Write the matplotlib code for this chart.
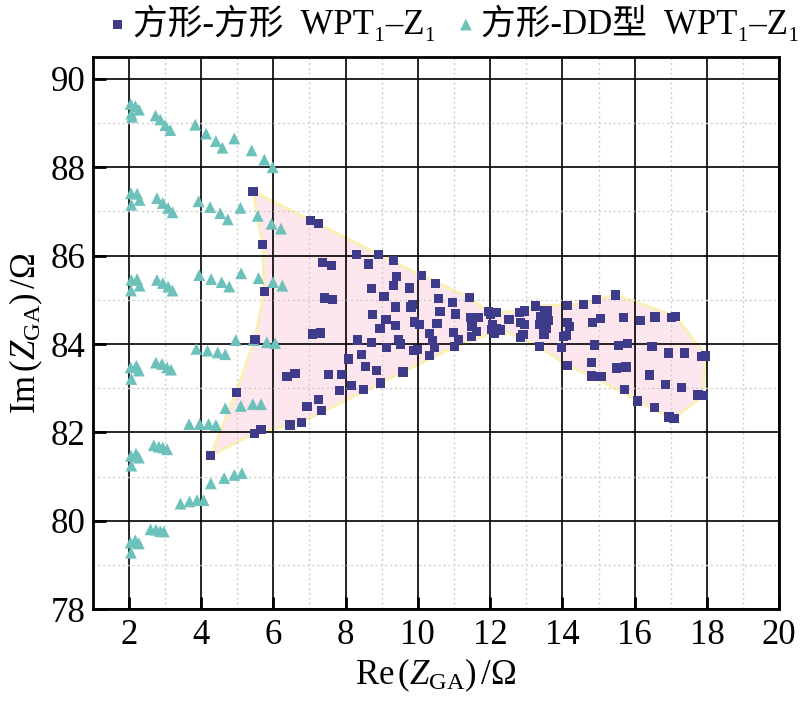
import numpy as np
import matplotlib
matplotlib.use("Agg")
import matplotlib.pyplot as plt
from matplotlib.patches import Polygon
from matplotlib.ticker import MultipleLocator

plt.rcParams["font.family"] = ["Liberation Serif", "Noto Sans CJK SC", "DejaVu Sans"]
plt.rcParams["mathtext.fontset"] = "custom"
plt.rcParams["mathtext.rm"] = "Liberation Serif"
plt.rcParams["mathtext.it"] = "Liberation Serif:italic"

# 方形-方形 WPT1-Z1 : first 31 points are the outline of the region, in order
sq_x = [5.44, 7.03, 8.91, 10.09, 11.43, 11.95, 12.16, 12.94, 13.26, 14.59, 14.95,
        15.46, 17.13, 17.96, 17.89, 17.09, 16.95, 14.80, 14.13, 13.36, 12.83, 12.29,
        11.01, 9.59, 6.78, 5.47, 4.27, 4.97, 5.49, 5.75, 5.70,
        # interior
        6.46, 5.66, 6.38, 6.60, 6.93, 7.24, 7.34, 7.26, 7.37, 7.60, 7.42, 7.64,
        7.08, 7.31, 7.53, 7.89, 7.84, 8.16, 8.49, 8.97, 8.09, 8.44, 8.55, 8.85,
        8.34, 8.72, 9.13, 9.46, 9.51, 9.88, 9.99, 8.31, 8.63, 9.32, 9.41, 9.32,
        8.71, 9.06, 9.77, 9.38, 9.81, 9.86, 8.74, 9.12, 8.95, 9.37, 9.90, 10.05,
        10.49, 10.56, 10.96, 10.61, 11.04, 10.53, 10.32, 10.41, 10.98, 11.13, 10.46,
        10.33, 11.47, 11.67, 11.50, 11.63, 11.49, 12.02, 12.06, 12.04, 12.16, 12.11,
        12.52, 12.82, 12.83, 12.95, 13.37, 13.39, 13.50, 13.58, 13.60, 13.55, 13.49,
        12.91, 13.97, 14.02, 14.11, 14.13, 14.15, 14.20, 14.83, 15.05, 15.69, 16.17,
        16.56, 17.02, 14.88, 15.56, 15.81, 16.48, 14.80, 15.49, 15.76, 15.07, 16.94,
        17.37, 17.84, 16.42, 16.85, 17.30, 15.71, 16.08, 16.54, 17.75]
sq_y = [87.45, 86.80, 86.03, 85.55, 85.05, 84.73, 84.71, 84.75, 84.86, 84.90, 85.01,
        85.11, 84.63, 83.73, 82.83, 82.32, 82.35, 83.28, 83.52, 83.94, 84.14, 84.32,
        83.94, 83.37, 82.23, 81.98, 81.48, 82.91, 84.11, 85.18, 86.26,
        82.17, 82.07, 83.27, 83.33, 82.58, 82.74, 82.49, 86.72, 85.84, 85.77, 85.04, 85.01,
        84.23, 84.25, 83.31, 83.31, 82.95, 83.07, 82.98, 83.12, 83.66, 83.77, 83.50, 83.40,
        84.09, 84.03, 83.92, 84.11, 84.00, 83.86, 83.88, 86.03, 85.81, 85.89, 85.52, 85.33,
        85.26, 85.08, 85.27, 84.84, 84.84, 84.90, 84.67, 84.55, 84.36, 84.42, 84.50, 84.45,
        85.37, 85.03, 84.94, 84.73, 84.68, 84.47, 84.24, 84.08, 84.26, 84.11, 83.92,
        83.74, 84.60, 84.60, 84.39, 84.28, 84.17, 84.66, 84.43, 84.33, 84.35, 84.24,
        84.56, 84.71, 84.48, 84.45, 84.45, 84.62, 84.75, 84.75, 84.54, 84.35, 84.23,
        84.22, 83.92, 84.17, 84.20, 84.87, 84.49, 84.39, 84.48, 84.57, 84.60, 84.54,
        84.61, 84.60, 83.98, 83.96, 84.02, 83.94, 83.59, 83.46, 83.48, 83.26, 83.80,
        83.80, 83.71, 83.30, 83.08, 83.01, 82.98, 82.71, 82.57, 82.85]
outline_idx = list(range(31))

# 方形-DD型 WPT1-Z1
tri_x = [2.05, 2.18, 2.28, 2.07, 2.09, 2.74, 2.87, 3.01, 3.15, 3.84, 4.14, 4.41, 4.59,
         4.92, 5.40, 5.75, 5.98,
         2.06, 2.23, 2.30, 2.07, 2.78, 2.94, 3.09, 3.21, 3.93, 4.25, 4.53, 4.74, 5.09,
         5.57, 5.95, 6.21,
         2.07, 2.23, 2.30, 2.06, 2.78, 2.94, 3.09, 3.21, 3.95, 4.28, 4.57, 4.78, 5.11,
         5.59, 5.99, 6.25,
         4.96, 5.45, 5.82, 6.05, 3.87, 4.18, 4.46, 4.67, 2.05, 2.21, 2.28, 2.07, 2.75,
         2.92, 3.06, 3.17,
         4.67, 5.10, 5.43, 5.66, 3.67, 3.96, 4.21, 4.41, 2.06, 2.20, 2.28, 2.07, 2.69,
         2.83, 2.94, 3.06,
         4.27, 4.64, 4.92, 5.13, 3.43, 3.68, 3.89, 4.07, 2.05, 2.18, 2.28, 2.06, 2.60,
         2.75, 2.87, 2.97]
tri_y = [89.43, 89.38, 89.30, 89.21, 89.14, 89.17, 89.08, 88.95, 88.84, 88.96, 88.76,
         88.59, 88.44, 88.65, 88.38, 88.17, 88.00,
         87.41, 87.40, 87.26, 87.15, 87.30, 87.19, 87.08, 86.98, 87.23, 87.10, 86.96,
         86.82, 87.08, 86.90, 86.72, 86.61,
         85.45, 85.47, 85.32, 85.21, 85.45, 85.38, 85.30, 85.21, 85.56, 85.47, 85.40,
         85.30, 85.60, 85.49, 85.40, 85.32,
         84.09, 84.09, 84.04, 84.02, 83.89, 83.85, 83.81, 83.77, 83.47, 83.51, 83.40,
         83.21, 83.58, 83.55, 83.47, 83.42,
         82.55, 82.60, 82.64, 82.64, 82.19, 82.19, 82.19, 82.17, 81.47, 81.52, 81.43,
         81.25, 81.71, 81.68, 81.66, 81.62,
         80.85, 80.97, 81.04, 81.08, 80.39, 80.44, 80.47, 80.47, 79.51, 79.56, 79.49,
         79.28, 79.81, 79.80, 79.77, 79.76]

fig = plt.figure(figsize=(8.1, 7.14), dpi=100)
ax = fig.add_axes([0.1144, 0.1466, 0.8476, 0.774])

outline = np.column_stack([np.array(sq_x)[outline_idx], np.array(sq_y)[outline_idx]])
ax.add_patch(Polygon(outline, closed=True, facecolor="#fde6ee", edgecolor="#f9f0b8",
                     lw=2.2, joinstyle="round", zorder=1))

ax.scatter(tri_x, tri_y, marker="^", s=72, color="#6cc1bb", edgecolors="none",
           zorder=3, label="方形-DD型  WPT₁–Z₁")
ax.scatter(sq_x, sq_y, marker="s", s=44, color="#3e3c8a", edgecolors="none",
           zorder=4, label="方形-方形  WPT₁–Z₁")

ax.set_xlim(1, 20)
ax.set_ylim(78, 90.5)
ax.xaxis.set_major_locator(MultipleLocator(2))
ax.xaxis.set_minor_locator(MultipleLocator(1))
ax.yaxis.set_major_locator(MultipleLocator(2))
ax.yaxis.set_minor_locator(MultipleLocator(1))
ax.grid(which="major", color="black", lw=1.2)
ax.grid(which="minor", color="#cfcfcf", lw=1.0, ls=(0, (1.5, 2)))
ax.tick_params(which="major", direction="in", length=9, width=2, labelsize=25,
               top=False, right=False)
ax.tick_params(axis="x", which="major", pad=7)
ax.tick_params(axis="y", which="major", pad=5)
ax.tick_params(which="minor", length=0)
for sp in ax.spines.values():
    sp.set_linewidth(2)

ax.set_xlabel(r"Re$\,$($Z_{\rm GA}$)$\,$/Ω", fontsize=25, labelpad=3)
ax.set_ylabel(r"Im$\,$($Z_{\rm GA}$)$\,$/Ω", fontsize=25, labelpad=4)

handles, labels = ax.get_legend_handles_labels()
ax.legend(handles[::-1], labels[::-1], loc="center", bbox_to_anchor=(0.522, 1.06),
          ncol=2, frameon=False, fontsize=25, handletextpad=0.0, columnspacing=0.4,
          handlelength=0.9, borderaxespad=0)

fig.savefig("out.png", dpi=100)
